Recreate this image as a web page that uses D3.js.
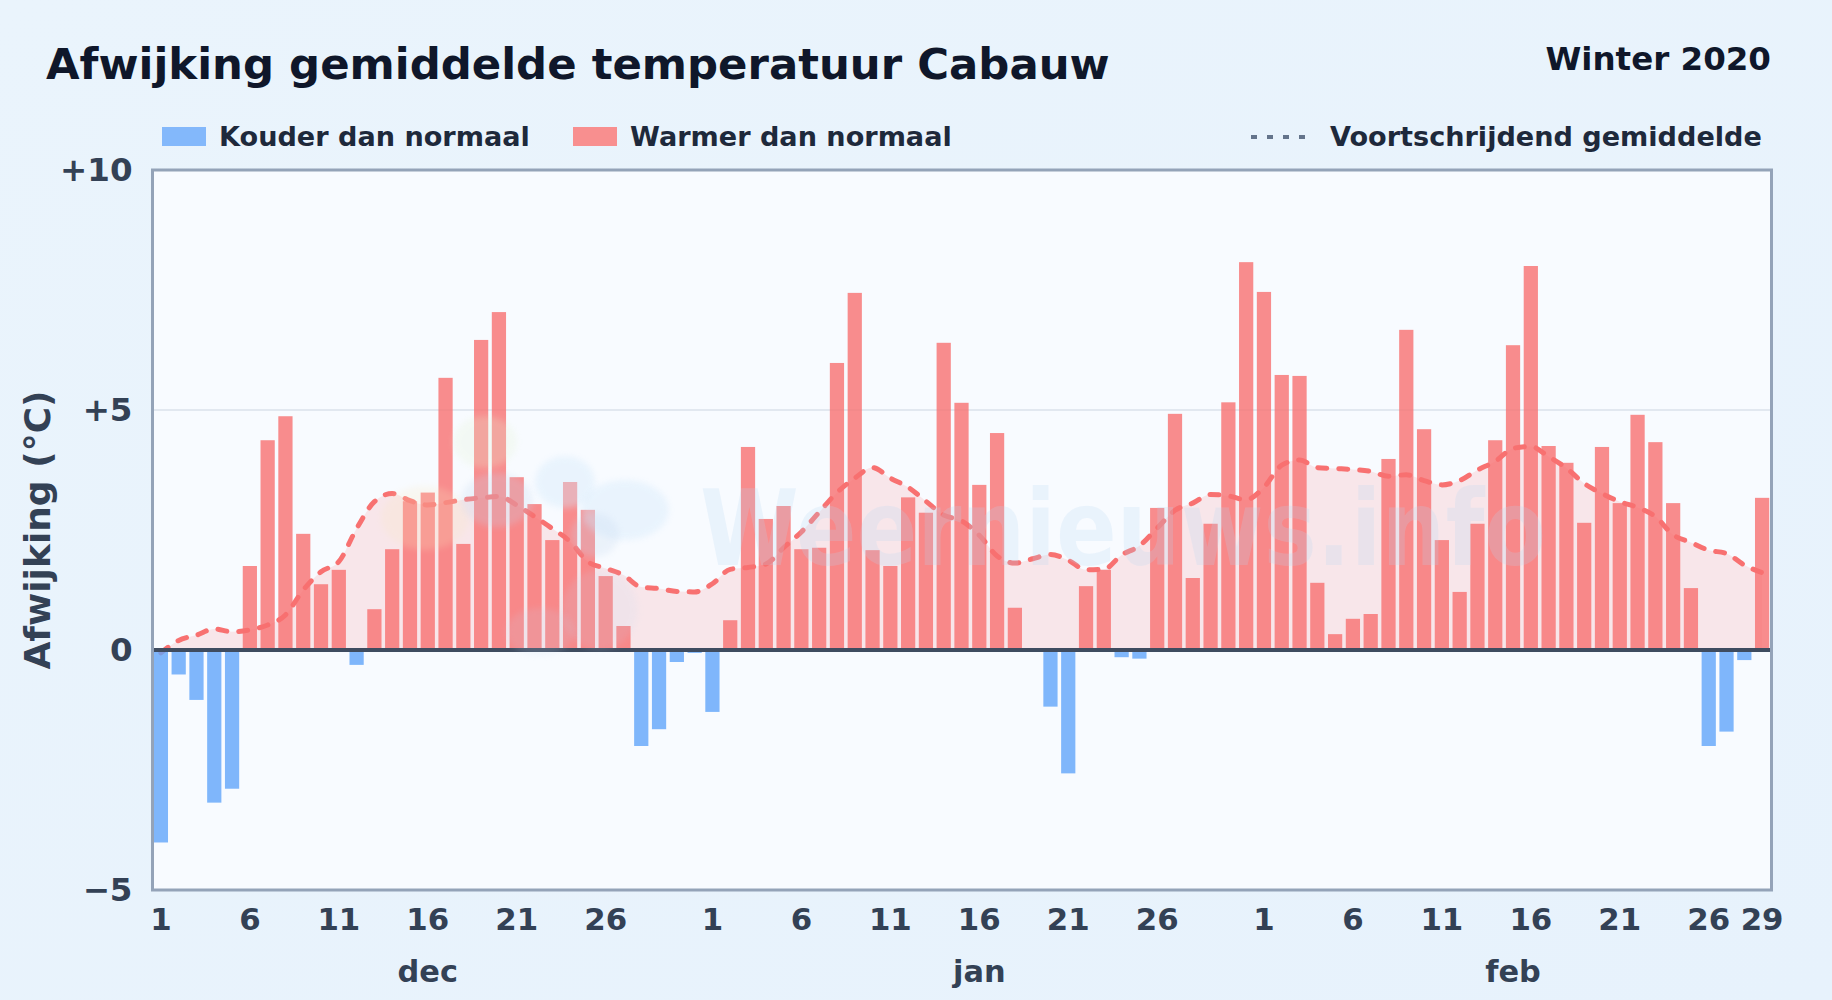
<!DOCTYPE html>
<html>
<head>
<meta charset="utf-8">
<script src="https://cdn.jsdelivr.net/npm/d3@7"></script>
<style>
    html, body { margin: 0; padding: 0; background: #e8f3fc; }
    svg { display: block; }
    text { font-family: "DejaVu Sans", sans-serif; font-weight: bold; }
</style>
</head>
<body>
<div class="canvas"></div>
<script>
// deviation per day
const dec = [-4.01, -0.51, -1.04, -3.18, -2.89, 1.75, 4.37, 4.87, 2.42, 1.37, 1.67, -0.31, 0.85, 2.10, 3.10, 3.28,
    5.67, 2.21, 6.46, 7.04, 3.60, 3.04, 2.29, 3.50, 2.92, 1.54, 0.50, -2.00, -1.65, -0.25, -0.06];
const jan = [-1.29, 0.62, 4.23, 2.73, 3.00, 2.10, 2.13, 5.98, 7.44, 2.08, 1.75, 3.18, 2.86, 6.40, 5.15, 3.44,
    4.52, 0.88, 0, -1.18, -2.57, 1.33, 1.67, -0.15, -0.18, 2.96, 4.92, 1.50, 2.63, 5.16, 8.08];
const feb = [7.46, 5.73, 5.71, 1.40, 0.33, 0.65, 0.75, 3.98, 6.67, 4.60, 2.29, 1.21, 2.63, 4.37, 6.35, 8.00,
    4.25, 3.90, 2.65, 4.23, 3.06, 4.90, 4.33, 3.06, 1.29, -2.00, -1.70, -0.21, 3.17];

// moving average
const avgDec = [-0.06, 0.2, 0.31, 0.44, 0.38, 0.42, 0.52, 0.73, 1.25, 1.63, 1.84, 2.53, 3.09, 3.26, 3.11, 3.02,
    3.07, 3.13, 3.17, 3.2, 3.02, 2.78, 2.53, 2.26, 1.84, 1.70, 1.56, 1.31, 1.28, 1.22, 1.21];
const avgJan = [1.38, 1.68, 1.72, 1.79, 2.13, 2.46, 2.87, 3.28, 3.58, 3.80, 3.58, 3.39, 3.10, 2.81, 2.69, 2.39,
    1.96, 1.81, 1.90, 1.99, 1.87, 1.67, 1.68, 1.98, 2.17, 2.54, 2.91, 3.06, 3.24, 3.21, 3.13];
const avgFeb = [3.39, 3.85, 3.96, 3.80, 3.78, 3.76, 3.72, 3.62, 3.65, 3.53, 3.44, 3.53, 3.75, 3.93, 4.2, 4.24,
    4.03, 3.79, 3.47, 3.26, 3.09, 2.97, 2.78, 2.40, 2.24, 2.08, 2.01, 1.77, 1.61];

const monthNames = ['dec', 'jan', 'feb'];
const monthDays = [dec.length, jan.length, feb.length];
const dayTicks = [1, 6, 11, 16, 21, 26];
const yTicks = [-5, 0, 5, 10];
const legendCold = 'Kouder dan normaal';
const legendWarm = 'Warmer dan normaal';
const legendAvg = 'Voortschrijdend gemiddelde';

const values = [...dec, ...jan, ...feb];
const averages = [...avgDec, ...avgJan, ...avgFeb];

const width = 1832;
const height = 1000;
const margin = { top: 170, right: 60.5, bottom: 110, left: 152.5 };
const graphWidth = width - margin.left - margin.right;
const graphHeight = height - margin.top - margin.bottom;

const svg = d3.select('.canvas')
    .append('svg')
    .attr('width', width)
    .attr('height', height);

const defs = svg.append('defs');
const bgGrad = defs.append('linearGradient')
    .attr('id', 'bg')
    .attr('x1', 0).attr('y1', 0).attr('x2', 1).attr('y2', 1);
bgGrad.append('stop').attr('offset', '0%').attr('stop-color', '#eaf4fc');
bgGrad.append('stop').attr('offset', '100%').attr('stop-color', '#e7f2fc');

defs.append('filter').attr('id', 'soft')
    .append('feGaussianBlur')
    .attr('stdDeviation', 3);

svg.append('rect')
    .attr('width', width)
    .attr('height', height)
    .attr('fill', 'url(#bg)');

// title
svg.append('text')
    .attr('x', 46)
    .attr('y', 79)
    .attr('font-size', 43.4)
    .attr('fill', '#0f172a')
    .text('Afwijking gemiddelde temperatuur Cabauw');

svg.append('text')
    .attr('x', 1771)
    .attr('y', 70)
    .attr('text-anchor', 'end')
    .attr('font-size', 32.5)
    .attr('fill', '#0f172a')
    .text('Winter 2020');

// legend
const legendItems = [
    { label: legendCold, color: '#83b8fb', x: 162 },
    { label: legendWarm, color: '#f88f8f', x: 573 }
];
legendItems.forEach(item => {
    svg.append('rect')
        .attr('x', item.x)
        .attr('y', 127)
        .attr('width', 44)
        .attr('height', 19)
        .attr('fill', item.color);
    svg.append('text')
        .attr('x', item.x + 57)
        .attr('y', 146)
        .attr('font-size', 27.1)
        .attr('fill', '#1e293b')
        .text(item.label);
});
svg.append('line')
    .attr('x1', 1251)
    .attr('x2', 1308)
    .attr('y1', 137)
    .attr('y2', 137)
    .attr('stroke', '#64748b')
    .attr('stroke-width', 4)
    .attr('stroke-dasharray', '6 10');
svg.append('text')
    .attr('x', 1330)
    .attr('y', 146)
    .attr('font-size', 27.1)
    .attr('fill', '#1e293b')
    .text(legendAvg);

const graph = svg.append('g')
    .attr('transform', `translate(${margin.left}, ${margin.top})`);

// scales
const y = d3.scaleLinear()
    .domain([-5, 10])
    .range([graphHeight, 0]);

const x = d3.scaleBand()
    .domain(d3.range(values.length))
    .range([-0.5, graphWidth - 0.5])
    .paddingInner(0.2)
    .paddingOuter(0.1);

const cx = i => x(i) + x.bandwidth() / 2;

// plot background
graph.append('rect')
    .attr('width', graphWidth)
    .attr('height', graphHeight)
    .attr('fill', '#f8fbff');

defs.append('clipPath').attr('id', 'plot')
    .append('rect')
    .attr('width', graphWidth)
    .attr('height', graphHeight);

// grid
graph.append('g')
    .selectAll('line')
    .data(yTicks.filter(d => d === 5))
    .enter()
    .append('line')
    .attr('x2', graphWidth)
    .attr('y1', d => y(d))
    .attr('y2', d => y(d))
    .attr('stroke', '#e2e8f0')
    .attr('stroke-width', 2);

// watermark
const mark = svg.append('g');
const blobs = [
    { cx: 485, cy: 442, rx: 32, ry: 26, fill: '#e4f3d4', o: 0.25 },
    { cx: 425, cy: 518, rx: 44, ry: 32, fill: '#f8e7c0', o: 0.22 },
    { cx: 497, cy: 500, rx: 36, ry: 27, fill: '#c4d8ef', o: 0.25 },
    { cx: 565, cy: 482, rx: 30, ry: 26, fill: '#d3e9fb', o: 0.4 },
    { cx: 625, cy: 510, rx: 44, ry: 30, fill: '#d3e9fb', o: 0.4 },
    { cx: 595, cy: 535, rx: 24, ry: 22, fill: '#c4d8ef', o: 0.25 },
    { cx: 600, cy: 610, rx: 38, ry: 40, fill: '#c4d8ef', o: 0.15 },
    { cx: 540, cy: 632, rx: 34, ry: 24, fill: '#c4d8ef', o: 0.15 }
];
mark.selectAll('ellipse')
    .data(blobs)
    .enter()
    .append('ellipse')
    .attr('cx', d => d.cx)
    .attr('cy', d => d.cy)
    .attr('rx', d => d.rx)
    .attr('ry', d => d.ry)
    .attr('fill', d => d.fill)
    .attr('opacity', d => d.o)
    .attr('filter', 'url(#soft)');
mark.append('text')
    .attr('x', 700)
    .attr('y', 565)
    .attr('font-size', 105)
    .attr('textLength', 846)
    .attr('lengthAdjust', 'spacingAndGlyphs')
    .attr('fill', '#b9d8f2')
    .attr('opacity', 0.22)
    .text('Weernieuws.info');

const plot = graph.append('g').attr('clip-path', 'url(#plot)');

// moving average area and line
const area = d3.area()
    .x((d, i) => cx(i))
    .y0(y(0))
    .y1(d => y(d))
    .curve(d3.curveMonotoneX);

const line = d3.line()
    .x((d, i) => cx(i))
    .y(d => y(d))
    .curve(d3.curveMonotoneX);

plot.append('path')
    .datum(averages)
    .attr('d', area)
    .attr('fill', '#f87171')
    .attr('fill-opacity', 0.15);

plot.append('path')
    .datum(averages)
    .attr('d', line)
    .attr('fill', 'none')
    .attr('stroke', '#f87171')
    .attr('stroke-width', 5)
    .attr('stroke-linecap', 'round')
    .attr('stroke-dasharray', '9 12');

// bars
plot.selectAll('rect.bar')
    .data(values)
    .enter()
    .append('rect')
    .attr('class', 'bar')
    .attr('x', (d, i) => x(i))
    .attr('width', x.bandwidth())
    .attr('y', d => y(Math.max(d, 0)))
    .attr('height', d => Math.abs(y(d) - y(0)))
    .attr('fill', d => d < 0 ? '#60a5fa' : '#f87171')
    .attr('fill-opacity', 0.8);

// zero line
graph.append('line')
    .attr('x2', graphWidth)
    .attr('y1', y(0))
    .attr('y2', y(0))
    .attr('stroke', '#3f4c60')
    .attr('stroke-width', 4);

// frame
graph.append('rect')
    .attr('width', graphWidth)
    .attr('height', graphHeight)
    .attr('fill', 'none')
    .attr('stroke', '#94a3b8')
    .attr('stroke-width', 3);

// axes
const yAxis = d3.axisLeft(y)
    .tickValues(yTicks)
    .tickSize(0)
    .tickPadding(20)
    .tickFormat(d => d > 0 ? `+${d}` : d < 0 ? `\u2212${-d}` : '0');

// one tick for each labelled day, counted over the three months
const tickDays = [];
monthDays.forEach((n, m) => {
    const offset = d3.sum(monthDays.slice(0, m));
    dayTicks.forEach(day => tickDays.push({ i: offset + day - 1, label: day }));
});
tickDays.push({ i: values.length - 1, label: monthDays[2] });
const labelOf = new Map(tickDays.map(d => [d.i, d.label]));

const xAxis = d3.axisBottom(x)
    .tickValues(tickDays.map(d => d.i))
    .tickSize(0)
    .tickPadding(18)
    .tickFormat(i => labelOf.get(i));

const yAxisGroup = graph.append('g').call(yAxis);
const xAxisGroup = graph.append('g')
    .attr('transform', `translate(0, ${graphHeight})`)
    .call(xAxis);

[yAxisGroup, xAxisGroup].forEach((g, n) => {
    g.select('.domain').remove();
    g.selectAll('text')
        .attr('font-size', n === 0 ? 32.5 : 30.8)
        .attr('font-family', '"DejaVu Sans", sans-serif')
        .attr('font-weight', 'bold')
        .attr('fill', '#334155');
});

// month labels centred under their day ranges
graph.append('g')
    .selectAll('text')
    .data(monthNames)
    .enter()
    .append('text')
    .attr('x', (d, m) => {
        const offset = d3.sum(monthDays.slice(0, m));
        return cx(offset + Math.floor(monthDays[m] / 2));
    })
    .attr('y', graphHeight + 92)
    .attr('text-anchor', 'middle')
    .attr('font-size', 30.4)
    .attr('fill', '#334155')
    .text(d => d);

// y label
svg.append('text')
    .attr('transform', `translate(50, ${margin.top + graphHeight / 2}) rotate(-90)`)
    .attr('text-anchor', 'middle')
    .attr('font-size', 36)
    .attr('fill', '#334155')
    .text('Afwijking (°C)');
</script>
</body>
</html>
